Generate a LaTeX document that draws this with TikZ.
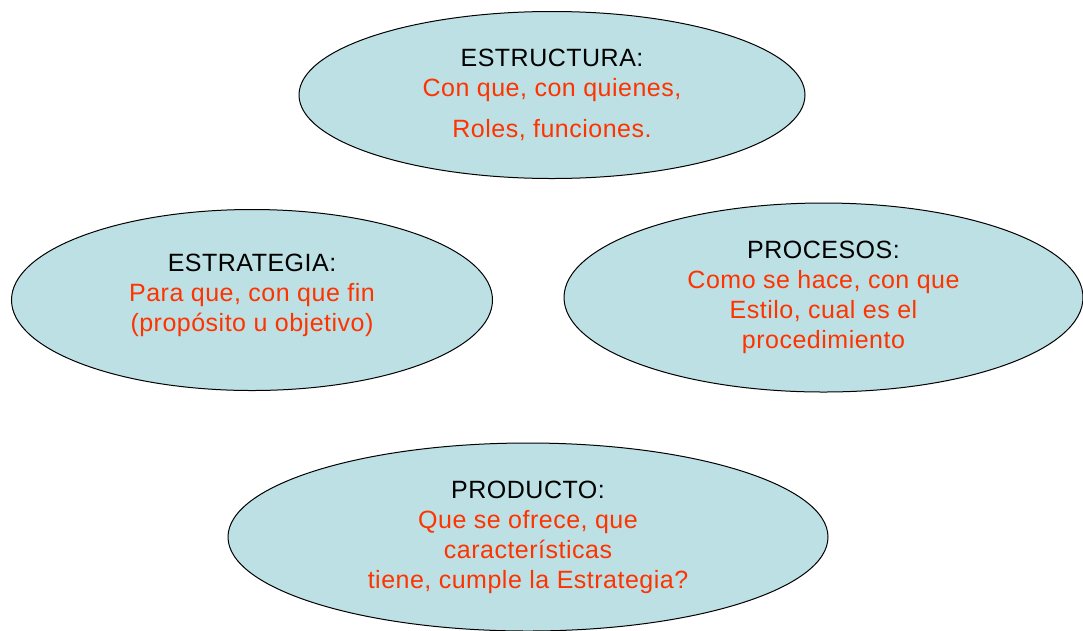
\documentclass[tikz,border=0pt]{standalone}
\usepackage{fontspec}
\setmainfont{Liberation Sans}[LetterSpace=2]
\usetikzlibrary{shapes.geometric}
\definecolor{cellfill}{RGB}{188,224,227}
\definecolor{txtred}{RGB}{255,51,0}
\begin{document}
\begin{tikzpicture}
        [x=1pt, y=-1pt,
        part/.style={ellipse, draw, line width=1pt, fill=cellfill, inner sep=0pt,
                     align=center, font=\fontsize{25}{30}\selectfont},
        body/.style={txtred}]

        % page frame
        \useasboundingbox (0,0) rectangle (1083,630);

        % the four parts
        \node[part, minimum width=506pt, minimum height=167pt] (estructura) at (552,95)
             {ESTRUCTURA:\\ \color{txtred}Con que, con quienes,\\[11pt] \color{txtred}Roles, funciones.};
        \node[part, minimum width=481pt, minimum height=181pt] (estrategia) at (252,300)
             {ESTRATEGIA:\\ \color{txtred}Para que, con que fin\\ \color{txtred}(propósito u objetivo)\\[-16pt]};
        \node[part, minimum width=519pt, minimum height=189pt] (procesos) at (823.5,297.5)
             {PROCESOS:\\ \color{txtred}Como se hace, con que\\ \color{txtred}Estilo, cual es el\\ \color{txtred}procedimiento};
        \node[part, minimum width=600pt, minimum height=188pt] (producto) at (528,537)
             {PRODUCTO:\\ \color{txtred}Que se ofrece, que\\ \color{txtred}características\\ \color{txtred}tiene, cumple la  Estrategia?};

    \end{tikzpicture}
\end{document}
